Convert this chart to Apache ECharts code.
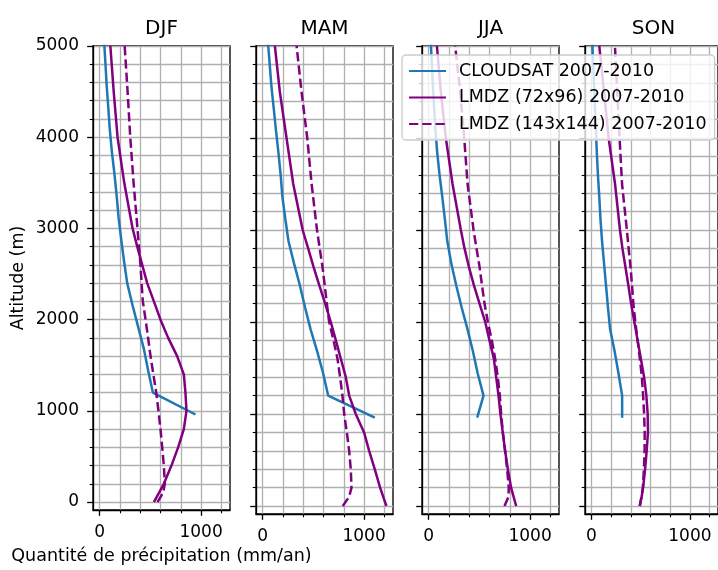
<!DOCTYPE html>
<html><head><meta charset="utf-8">
<script src="https://cdn.jsdelivr.net/npm/echarts@6/dist/echarts.min.js"></script>
<style>html,body{margin:0;padding:0;background:#fff}#c{width:718px;height:570px}</style>
</head><body><div id="c"></div><script>
const seasons = ['DJF', 'MAM', 'JJA', 'SON'];
const seriesNames = ['CLOUDSAT 2007-2010', 'LMDZ (72x96) 2007-2010', 'LMDZ (143x144) 2007-2010'];
const xTickValues = [0, 1000];
const yTickValues = [0, 1000, 2000, 3000, 4000, 5000];
const xTitle = 'Quantité de précipitation (mm/an)';
const yTitle = 'Altitude (m)';

// altitudes (m)
const altCloudsat = [960, 1200, 1440, 1680, 1920, 2160, 2400, 2640, 2880, 3120, 3360, 3600, 3840, 4080, 4320, 4560, 4800, 5040];
const altLmdz = [0, 100, 200, 400, 600, 800, 1000, 1200, 1400, 1600, 1800, 2000, 2200, 2400, 2600, 2800, 3000, 3500, 4000, 4500, 5000];

// precipitation (mm/an)
const cloudsatDJF = [945, 525, 479, 436, 380, 324, 272, 241, 213, 187, 168, 146, 121, 101, 86, 70, 58, 45];
const cloudsatMAM = [1105, 646, 597, 538, 473, 418, 367, 309, 255, 224, 195, 178, 156, 132, 110, 87, 70, 53];
const cloudsatJJA = [479, 541, 484, 437, 384, 325, 272, 223, 184, 160, 135, 108, 85, 68, 55, 43, 32, 22];
const cloudsatSON = [312, 312, 275, 236, 190, 168, 148, 128, 108, 92, 80, 66, 55, 46, 36, 28, 18, 9];

const lmdz72DJF = [535, 585, 633, 708, 774, 830, 856, 846, 830, 764, 676, 600, 535, 469, 420, 371, 325, 243, 177, 139, 106];
const lmdz72MAM = [1220, 1189, 1158, 1105, 1050, 1000, 918, 853, 820, 771, 722, 672, 617, 558, 502, 449, 395, 302, 236, 170, 121];
const lmdz72JJA = [863, 838, 813, 781, 754, 731, 708, 689, 666, 643, 600, 558, 502, 446, 397, 354, 318, 236, 170, 121, 82];
const lmdz72SON = [492, 510, 525, 545, 561, 574, 571, 558, 535, 502, 469, 436, 403, 375, 345, 315, 290, 240, 175, 128, 80];

const lmdz143DJF = [570, 625, 643, 633, 617, 600, 580, 558, 530, 502, 478, 453, 426, 414, 403, 388, 373, 335, 302, 276, 247];
const lmdz143MAM = [790, 853, 876, 869, 853, 830, 804, 787, 764, 738, 699, 656, 633, 612, 590, 563, 536, 483, 440, 384, 335];
const lmdz143JJA = [748, 787, 790, 774, 754, 731, 715, 702, 682, 656, 623, 584, 551, 526, 502, 472, 443, 384, 351, 312, 262];
const lmdz143SON = [490, 508, 522, 533, 540, 541, 535, 525, 512, 492, 469, 446, 426, 412, 397, 378, 360, 311, 286, 262, 239];

const cloudsatAll = [cloudsatDJF, cloudsatMAM, cloudsatJJA, cloudsatSON];
const lmdz72All = [lmdz72DJF, lmdz72MAM, lmdz72JJA, lmdz72SON];
const lmdz143All = [lmdz143DJF, lmdz143MAM, lmdz143JJA, lmdz143SON];

const FONT = 'DejaVu Sans';
const panelLeft = [93, 256, 422, 585];
const panelTop = 46, panelW = 137, panelH = 468;
const blue = '#1f77b4', purple = '#800080';
const plain = v => String(v);

const grids = [], xAxes = [], yAxes = [], series = [], graphics = [];
seasons.forEach((s, i) => {
  grids.push({left: panelLeft[i], top: panelTop, width: panelW, height: panelH,
    show: true, borderColor: '#000', borderWidth: 1.33, backgroundColor: 'transparent', containLabel: false});
  xAxes.push({
    type: 'value', gridIndex: i, min: -65, max: 1285, minInterval: 1000, maxInterval: 1000,
    axisLine: {show: true, onZero: false, lineStyle: {color: '#000', width: 1.33}},
    axisTick: {show: true, length: 5.8, customValues: xTickValues, lineStyle: {color: '#000', width: 1.33}},
    minorTick: {show: true, splitNumber: 5, length: 3.3, lineStyle: {color: '#000', width: 1.1}},
    axisLabel: {show: true, customValues: xTickValues, formatter: plain, color: '#000', fontSize: 17, fontFamily: FONT, margin: 14},
    splitLine: {show: true, lineStyle: {color: '#b0b0b0', width: 1.33}},
    minorSplitLine: {show: true, lineStyle: {color: '#b0b0b0', width: 1.33}},
    name: i === 0 ? xTitle : '', nameLocation: 'middle', nameGap: 37,
    nameTextStyle: {color: '#000', fontSize: 17.5, fontFamily: FONT}
  });
  yAxes.push({
    type: 'value', gridIndex: i, min: -87, max: 5000, minInterval: 1000, maxInterval: 1000,
    axisLine: {show: true, onZero: false, lineStyle: {color: '#000', width: 1.33}},
    axisTick: {show: true, length: 5.8, customValues: yTickValues, lineStyle: {color: '#000', width: 1.33}},
    minorTick: {show: true, splitNumber: 5, length: 3.3, lineStyle: {color: '#000', width: 1.1}},
    axisLabel: {show: i === 0, customValues: yTickValues, formatter: plain, color: '#000', fontSize: 17, fontFamily: FONT,
      margin: 14, padding: [5, 0, 0, 0]},
    splitLine: {show: true, lineStyle: {color: '#b0b0b0', width: 1.33}},
    minorSplitLine: {show: true, lineStyle: {color: '#b0b0b0', width: 1.33}},
    name: i === 0 ? yTitle : '', nameLocation: 'middle', nameGap: 66,
    nameTextStyle: {color: '#000', fontSize: 17.5, fontFamily: FONT}
  });
  series.push({type: 'line', name: seriesNames[0], xAxisIndex: i, yAxisIndex: i, symbol: 'none', showSymbol: false,
    data: altCloudsat.map((a, k) => [cloudsatAll[i][k], a]),
    lineStyle: {color: blue, width: 2.5}, itemStyle: {color: blue}, z: 3});
  series.push({type: 'line', name: seriesNames[1], xAxisIndex: i, yAxisIndex: i, symbol: 'none', showSymbol: false,
    data: altLmdz.map((a, k) => [lmdz72All[i][k], a]),
    lineStyle: {color: purple, width: 2.5}, itemStyle: {color: purple}, z: 3});
  series.push({type: 'line', name: seriesNames[2], xAxisIndex: i, yAxisIndex: i, symbol: 'none', showSymbol: false,
    data: altLmdz.map((a, k) => [lmdz143All[i][k], a]),
    lineStyle: {color: purple, width: 2.5, type: [9.25, 4]}, itemStyle: {color: purple}, z: 3});
  graphics.push({type: 'text', x: panelLeft[i] + panelW / 2, y: 29,
    style: {text: s, fill: '#000', font: '20px "DejaVu Sans"', textAlign: 'center', textVerticalAlign: 'middle'}});
});

const chart = echarts.init(document.getElementById('c'), null, {renderer: 'canvas'});
chart.setOption({
  animation: false,
  backgroundColor: '#fff',
  grid: grids, xAxis: xAxes, yAxis: yAxes, series: series,
  graphic: graphics,
  legend: {
    data: seriesNames, orient: 'vertical', left: 402, top: 55,
    itemWidth: 37, itemHeight: 14, itemGap: 8.5, padding: [7, 8, 7, 6],
    backgroundColor: 'rgba(255,255,255,0.8)', borderColor: '#cccccc', borderWidth: 1.33, borderRadius: 4,
    itemStyle: {opacity: 0},
    textStyle: {fontSize: 17.5, color: '#000', fontFamily: FONT, padding: [0, 0, 0, 8]},
    z: 10
  }
});
</script></body></html>
